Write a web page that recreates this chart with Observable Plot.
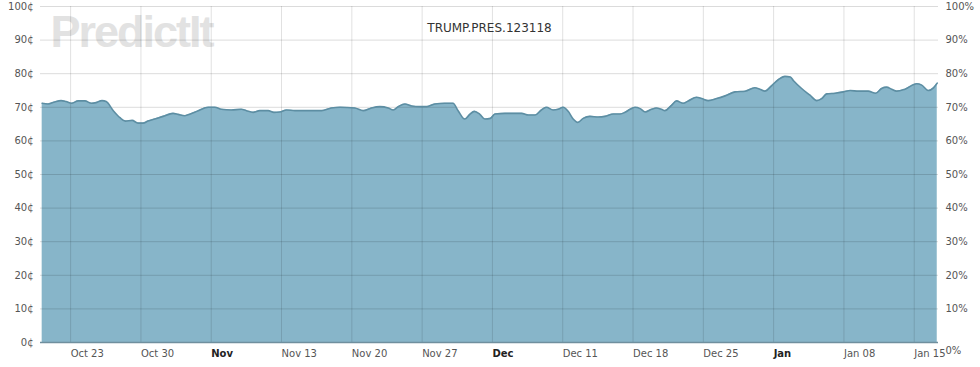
<!DOCTYPE html>
<html>
<head>
<meta charset="utf-8">
<script src="https://cdn.jsdelivr.net/npm/d3@7"></script>
<script src="https://cdn.jsdelivr.net/npm/@observablehq/plot@0.6"></script>
<style>body{margin:0;background:#fff}</style>
</head>
<body>
<div id="chart"></div>
<script>
const times = [
  "2017-10-20T04:00Z","2017-10-20T18:00Z","2017-10-21T10:00Z","2017-10-22T01:00Z","2017-10-22T13:00Z",
  "2017-10-23T02:00Z","2017-10-23T18:00Z","2017-10-24T10:00Z","2017-10-25T02:00Z","2017-10-25T13:00Z",
  "2017-10-26T03:00Z","2017-10-26T13:00Z","2017-10-27T06:00Z","2017-10-27T22:00Z","2017-10-28T11:00Z",
  "2017-10-29T03:00Z","2017-10-29T17:00Z","2017-10-30T05:00Z","2017-10-30T17:00Z","2017-10-31T09:00Z",
  "2017-11-01T05:00Z","2017-11-02T05:00Z","2017-11-02T17:00Z","2017-11-03T09:00Z","2017-11-03T22:00Z",
  "2017-11-04T17:00Z","2017-11-05T17:00Z","2017-11-06T09:00Z","2017-11-07T00:00Z","2017-11-08T00:00Z",
  "2017-11-09T00:00Z","2017-11-09T12:00Z","2017-11-10T04:00Z","2017-11-10T20:00Z","2017-11-11T16:00Z",
  "2017-11-12T06:00Z","2017-11-12T20:00Z","2017-11-13T12:00Z","2017-11-14T08:00Z","2017-11-15T16:00Z",
  "2017-11-17T00:00Z","2017-11-17T23:00Z","2017-11-18T20:00Z","2017-11-20T07:00Z","2017-11-21T03:00Z",
  "2017-11-21T23:00Z","2017-11-22T19:00Z","2017-11-23T15:00Z","2017-11-24T03:00Z","2017-11-24T15:00Z",
  "2017-11-25T07:00Z","2017-11-25T23:00Z","2017-11-26T19:00Z","2017-11-27T11:00Z","2017-11-28T06:00Z",
  "2017-11-29T06:00Z","2017-11-30T02:00Z","2017-11-30T14:00Z","2017-12-01T06:00Z","2017-12-01T18:00Z",
  "2017-12-02T05:00Z","2017-12-02T18:00Z","2017-12-03T06:00Z","2017-12-03T19:00Z","2017-12-04T06:00Z",
  "2017-12-05T06:00Z","2017-12-06T22:00Z","2017-12-07T14:00Z","2017-12-08T06:00Z","2017-12-08T21:00Z",
  "2017-12-09T09:00Z","2017-12-10T01:00Z","2017-12-10T13:00Z","2017-12-11T01:00Z","2017-12-11T13:00Z",
  "2017-12-12T01:00Z","2017-12-12T12:00Z","2017-12-13T01:00Z","2017-12-13T17:00Z","2017-12-14T13:00Z",
  "2017-12-15T05:00Z","2017-12-16T01:00Z","2017-12-16T17:00Z","2017-12-17T05:00Z","2017-12-17T17:00Z",
  "2017-12-18T05:00Z","2017-12-18T17:00Z","2017-12-19T05:00Z","2017-12-19T20:00Z","2017-12-20T08:00Z",
  "2017-12-20T20:00Z","2017-12-21T04:00Z","2017-12-21T20:00Z","2017-12-22T08:00Z","2017-12-23T00:00Z",
  "2017-12-23T12:00Z","2017-12-24T08:00Z","2017-12-24T20:00Z","2017-12-25T12:00Z","2017-12-26T08:00Z",
  "2017-12-27T04:00Z","2017-12-28T04:00Z","2017-12-29T04:00Z","2017-12-30T03:00Z","2017-12-30T15:00Z",
  "2017-12-31T03:00Z","2017-12-31T19:00Z","2018-01-01T11:00Z","2018-01-02T03:00Z","2018-01-02T16:00Z",
  "2018-01-02T23:00Z","2018-01-03T19:00Z","2018-01-04T15:00Z","2018-01-05T07:00Z","2018-01-05T19:00Z",
  "2018-01-06T07:00Z","2018-01-07T03:00Z","2018-01-07T23:00Z","2018-01-08T15:00Z","2018-01-09T10:00Z",
  "2018-01-10T10:00Z","2018-01-11T04:00Z","2018-01-11T18:00Z","2018-01-12T06:00Z","2018-01-12T18:00Z",
  "2018-01-13T06:00Z","2018-01-14T02:00Z","2018-01-15T06:00Z","2018-01-15T18:00Z","2018-01-16T10:00Z",
  "2018-01-16T22:00Z","2018-01-17T07:00Z"
];
const prices = [
  71.2, 71.0, 71.6, 72.0, 71.7,
  71.2, 71.9, 71.9, 71.2, 71.4,
  72.0, 71.7, 69.0, 66.9, 65.9,
  66.1, 65.3, 65.3, 65.9, 66.5,
  67.3, 68.2, 67.9, 67.5, 68.0,
  69.0, 70.0, 70.0, 69.4, 69.2,
  69.4, 69.0, 68.5, 69.0, 69.0,
  68.5, 68.6, 69.2, 69.0, 69.0,
  69.0, 69.8, 70.0, 69.8, 69.0,
  69.8, 70.2, 69.8, 69.2, 70.2,
  71.0, 70.4, 70.2, 70.2, 71.0,
  71.2, 71.2, 69.0, 66.5, 67.9,
  68.8, 67.9, 66.5, 66.7, 68.0,
  68.2, 68.2, 67.7, 67.7, 69.2,
  70.0, 69.2, 69.4, 70.0, 68.8,
  66.5, 65.5, 66.7, 67.3, 67.1,
  67.3, 68.0, 68.0, 68.5, 69.4,
  70.0, 69.6, 68.6, 69.4, 69.8,
  69.4, 69.0, 70.6, 71.9, 71.2,
  71.9, 73.0, 72.6, 72.0, 72.6,
  73.4, 74.6, 74.8, 75.8, 75.4,
  74.8, 76.4, 78.2, 79.2, 79.0,
  78.0, 75.6, 73.6, 72.0, 72.6,
  74.0, 74.2, 74.6, 75.0, 74.8,
  74.8, 74.2, 75.6, 76.0, 75.4,
  74.8, 75.4, 77.0, 76.6, 75.0,
  75.8, 77.2
];
const yTicks = [0, 10, 20, 30, 40, 50, 60, 70, 80, 90, 100];
const xTickDates = [
  "2017-10-23","2017-10-30","2017-11-06","2017-11-13","2017-11-20","2017-11-27",
  "2017-12-04","2017-12-11","2017-12-18","2017-12-25","2018-01-01","2018-01-08","2018-01-15"
];
const xTickLabels = ["Oct 23","Oct 30","Nov","Nov 13","Nov 20","Nov 27","Dec","Dec 11","Dec 18","Dec 25","Jan","Jan 08","Jan 15"];
const boldLabels = ["Nov", "Dec", "Jan"];
const title = "TRUMP.PRES.123118";
const watermark = "PredictIt";
const xDomain = ["2017-10-20T00:00Z", "2018-01-17T10:00Z"];

const data = times.map((t, i) => ({date: new Date(t), price: prices[i]}));
const ticks = xTickDates.map((t, i) => ({date: new Date(t + "T00:00Z"), label: xTickLabels[i]}));
const labelOf = new Map(ticks.map(d => [+d.date, d.label]));
const regularTicks = ticks.filter(d => !boldLabels.includes(d.label)).map(d => d.date);
const boldTicks = ticks.filter(d => boldLabels.includes(d.label)).map(d => d.date);

const chart = Plot.plot({
  width: 980,
  height: 367,
  marginLeft: 40,
  marginRight: 42,
  marginTop: 6,
  marginBottom: 25,
  style: {fontFamily: "DejaVu Sans", fontSize: "10px", color: "#555", background: "#fff"},
  x: {type: "utc", domain: xDomain.map(d => new Date(d))},
  y: {domain: [0, 100]},
  marks: [
    Plot.text([watermark], {frameAnchor: "top-left", dx: 10, dy: 9, text: d => d, lineAnchor: "top", textAnchor: "start",
      fontSize: 45, fontWeight: "bold", fontFamily: "Liberation Sans", fill: "#e2e2e2"}),
    Plot.areaY(data, {x: "date", y: "price", fill: "#87b5c9", curve: "monotone-x"}),
    Plot.gridY(yTicks, {stroke: "#000", strokeOpacity: 0.14}),
    Plot.gridX(ticks.map(d => d.date), {stroke: "#000", strokeOpacity: 0.12}),
    Plot.lineY(data, {x: "date", y: "price", stroke: "#5d8ea3", strokeWidth: 1.6, curve: "monotone-x"}),
    Plot.ruleY([0], {stroke: "#6f8f9e", strokeWidth: 1.5}),
    Plot.axisY(yTicks, {anchor: "left", tickSize: 0, tickPadding: 7, tickFormat: d => d + "¢", label: null}),
    Plot.axisY(yTicks.filter(d => d > 0), {anchor: "right", tickSize: 0, tickPadding: 7, tickFormat: d => d + "%", label: null}),
    Plot.axisY([0], {anchor: "right", tickSize: 0, tickPadding: 7, dy: 8, tickFormat: d => d + "%", label: null}),
    Plot.axisX(regularTicks, {tickSize: 0, tickPadding: 7, textAnchor: "start", tickFormat: d => labelOf.get(+d), label: null}),
    Plot.axisX(boldTicks, {tickSize: 0, tickPadding: 7, textAnchor: "start", fontWeight: "bold", fill: "#222", tickFormat: d => labelOf.get(+d), label: null}),
    Plot.text([title], {frameAnchor: "top", dy: 17, text: d => d, fontSize: 12, fill: "#333"})
  ]
});

chart.querySelectorAll("text").forEach(t => {
  if (t.textContent === watermark) t.setAttribute("letter-spacing", "-2");
});
document.getElementById("chart").appendChild(chart);
</script>
</body>
</html>
